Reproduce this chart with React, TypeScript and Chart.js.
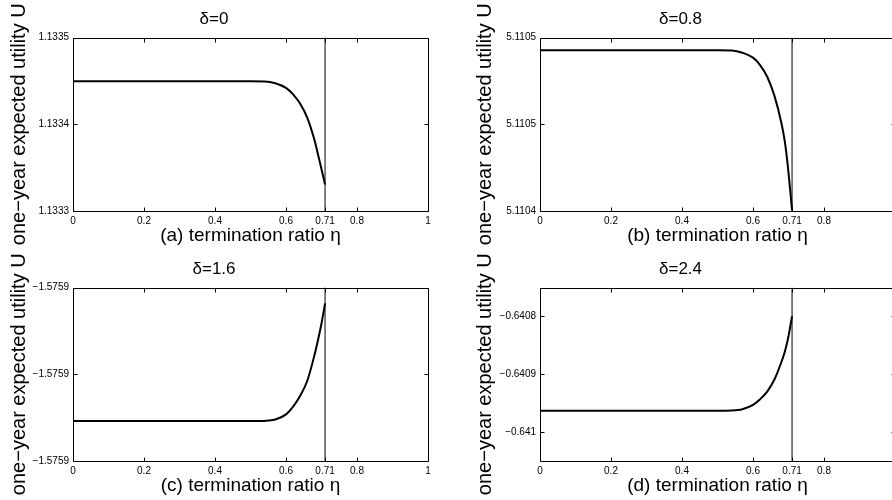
import React, { useEffect, useRef } from "react";
import { Chart, registerables } from "chart.js";

Chart.register(...registerables);

const FONT = "'Liberation Sans', Arial, Helvetica, sans-serif";

// termination ratio η (x values of the sampled curve)
const eta = [0, 0.1, 0.2, 0.3, 0.4, 0.5, 0.54, 0.57, 0.6, 0.62, 0.64, 0.66, 0.68, 0.69, 0.7, 0.71];
const thresholdEta = 0.71;

const xTickValues = [0, 0.2, 0.4, 0.6, 0.71, 0.8, 1];
const xTickLabels = ["0", "0.2", "0.4", "0.6", "0.71", "0.8", "1"];

// (a) δ=0
const utilityA = [
  1.1334496, 1.1334496, 1.1334496, 1.1334496, 1.1334496, 1.1334496, 1.1334494, 1.1334473,
  1.1334419, 1.1334345, 1.1334236, 1.1334074, 1.1333822, 1.1333655, 1.1333481, 1.1333306,
];
const yRangeA = [1.1333, 1.1335];
const yTicksA = [1.1333, 1.1334, 1.1335];
const yTickLabelsA = ["1.1333", "1.1334", "1.1335"];

// (b) δ=0.8
const utilityB = [
  5.1104941, 5.1104941, 5.1104941, 5.1104941, 5.1104941, 5.1104941, 5.110494, 5.110493,
  5.1104907, 5.1104873, 5.1104819, 5.1104733, 5.1104606, 5.1104516, 5.1104377, 5.1104203,
];
const yRangeB = [5.11042, 5.1105];
const yTicksB = [5.11042, 5.11046, 5.1105];
const yTickLabelsB = ["5.1104", "5.1105", "5.1105"];

// (c) δ=1.6
const utilityC = [
  -1.5759216, -1.5759216, -1.5759216, -1.5759216, -1.5759216, -1.5759216, -1.5759215, -1.5759209,
  -1.5759185, -1.5759149, -1.5759099, -1.575903, -1.5758913, -1.5758843, -1.5758766, -1.5758673,
];
const yRangeC = [-1.57594, -1.57586];
const yTicksC = [-1.57594, -1.5759, -1.57586];
const yTickLabelsC = ["\u22121.5759", "\u22121.5759", "\u22121.5759"];

// (d) δ=2.4
const utilityD = [
  -0.6409629, -0.6409629, -0.6409629, -0.6409629, -0.6409629, -0.6409629, -0.6409626, -0.6409606,
  -0.6409531, -0.6409432, -0.6409299, -0.6409096, -0.6408788, -0.6408603, -0.6408342, -0.6407994,
];
const yRangeD = [-0.64105, -0.64075];
const yTicksD = [-0.641, -0.6409, -0.6408];
const yTickLabelsD = ["\u22120.641", "\u22120.6409", "\u22120.6408"];

const titles = ["\u03b4=0", "\u03b4=0.8", "\u03b4=1.6", "\u03b4=2.4"];
const xLabels = [
  "(a) termination ratio \u03b7",
  "(b) termination ratio \u03b7",
  "(c) termination ratio \u03b7",
  "(d) termination ratio \u03b7",
];
const yLabel = "one\u2212year expected utility U";

type PanelData = {
  title: string;
  xLabel: string;
  values: number[];
  yRange: number[];
  yTicks: number[];
  yTickLabels: string[];
};

const panelData: PanelData[] = [
  { title: titles[0], xLabel: xLabels[0], values: utilityA, yRange: yRangeA, yTicks: yTicksA, yTickLabels: yTickLabelsA },
  { title: titles[1], xLabel: xLabels[1], values: utilityB, yRange: yRangeB, yTicks: yTicksB, yTickLabels: yTickLabelsB },
  { title: titles[2], xLabel: xLabels[2], values: utilityC, yRange: yRangeC, yTicks: yTicksC, yTickLabels: yTickLabelsC },
  { title: titles[3], xLabel: xLabels[3], values: utilityD, yRange: yRangeD, yTicks: yTicksD, yTickLabels: yTickLabelsD },
];

const boxPlugin = {
  id: "matlabBox",
  afterDraw(chart: any) {
    const { ctx, chartArea } = chart;
    const xs = chart.scales.x;
    const ys = chart.scales.y;
    const L = Math.round(chartArea.left) + 0.5;
    const R = Math.round(chartArea.right) + 0.5;
    const T = Math.round(chartArea.top) + 0.5;
    const B = Math.round(chartArea.bottom) + 0.5;
    const tl = 4;
    ctx.save();
    ctx.strokeStyle = "#000";
    ctx.lineWidth = 1;
    ctx.beginPath();
    ctx.rect(L, T, R - L, B - T);
    for (const t of xs.ticks) {
      const px = Math.round(xs.getPixelForValue(t.value)) + 0.5;
      ctx.moveTo(px, B);
      ctx.lineTo(px, B - tl);
      ctx.moveTo(px, T);
      ctx.lineTo(px, T + tl);
    }
    for (const t of ys.ticks) {
      const py = Math.round(ys.getPixelForValue(t.value)) + 0.5;
      ctx.moveTo(L, py);
      ctx.lineTo(L + tl, py);
      ctx.moveTo(R, py);
      ctx.lineTo(R - tl, py);
    }
    ctx.stroke();
    ctx.restore();
  },
};

type PanelProps = {
  d: PanelData;
  left: number;
  top: number;
  width: number;
  padLeft: number;
  padRight: number;
  yWidth: number;
};

function Panel({ d, left, top, width, padLeft, padRight, yWidth }: PanelProps) {
  const ref = useRef<HTMLCanvasElement | null>(null);
  useEffect(() => {
    if (!ref.current) return;
    const chart = new Chart(ref.current, {
      type: "line",
      data: {
        datasets: [
          {
            data: eta.map((x, i) => ({ x, y: d.values[i] })),
            borderColor: "#000",
            borderWidth: 2,
            pointRadius: 0,
            cubicInterpolationMode: "monotone",
            fill: false,
          },
          {
            data: [
              { x: thresholdEta, y: d.yRange[0] },
              { x: thresholdEta, y: d.yRange[1] },
            ],
            borderColor: "#000",
            borderWidth: 1,
            pointRadius: 0,
            fill: false,
          },
        ],
      },
      options: {
        responsive: false,
        animation: false,
        events: [],
        layout: { padding: { left: padLeft, right: padRight, top: 0, bottom: 0 } },
        plugins: {
          legend: { display: false },
          tooltip: { enabled: false },
          title: {
            display: true,
            text: d.title,
            color: "#000",
            font: { family: FONT, size: 17, weight: "normal" },
            padding: { top: 9.3, bottom: 7.8 },
          },
        },
        scales: {
          x: {
            type: "linear",
            min: 0,
            max: 1,
            grid: { display: false, drawTicks: false },
            border: { display: false },
            afterBuildTicks: (s: any) => {
              s.ticks = xTickValues.map((v) => ({ value: v }));
            },
            afterFit: (s: any) => {
              s.height = 39;
            },
            ticks: {
              autoSkip: false,
              maxRotation: 0,
              minRotation: 0,
              padding: 4,
              color: "#000",
              font: { family: FONT, size: 10 },
              callback: (_v: any, i: number) => xTickLabels[i],
            },
            title: {
              display: true,
              text: d.xLabel,
              color: "#000",
              font: { family: FONT, size: 19 },
              padding: { top: 0, bottom: 2.6 },
            },
          },
          y: {
            type: "linear",
            min: d.yRange[0],
            max: d.yRange[1],
            grid: { display: false, drawTicks: false },
            border: { display: false },
            afterBuildTicks: (s: any) => {
              s.ticks = d.yTicks.map((v) => ({ value: v }));
            },
            afterFit: (s: any) => {
              s.width = yWidth;
            },
            ticks: {
              autoSkip: false,
              padding: 4,
              color: "#000",
              font: { family: FONT, size: 10 },
              callback: (_v: any, i: number) => d.yTickLabels[i],
            },
            title: {
              display: true,
              text: yLabel,
              color: "#000",
              font: { family: FONT, size: 20 },
              padding: { top: 7, bottom: 0 },
            },
          },
        },
      } as any,
      plugins: [boxPlugin],
    });
    return () => chart.destroy();
  }, []);
  return (
    <canvas
      ref={ref}
      width={width}
      height={250}
      style={{ position: "absolute", left, top, width, height: 250, display: "block" }}
    />
  );
}

export default function App() {
  return (
    <div
      style={{
        position: "absolute",
        left: 0,
        top: 0,
        width: 892,
        height: 500,
        overflow: "hidden",
        background: "#fff",
      }}
    >
      <Panel d={panelData[0]} left={0} top={0} width={446} padLeft={0} padRight={18} yWidth={73} />
      <Panel d={panelData[1]} left={446} top={0} width={460} padLeft={20} padRight={11} yWidth={74} />
      <Panel d={panelData[2]} left={0} top={250} width={446} padLeft={0} padRight={18} yWidth={73} />
      <Panel d={panelData[3]} left={446} top={250} width={460} padLeft={20} padRight={11} yWidth={74} />
    </div>
  );
}
